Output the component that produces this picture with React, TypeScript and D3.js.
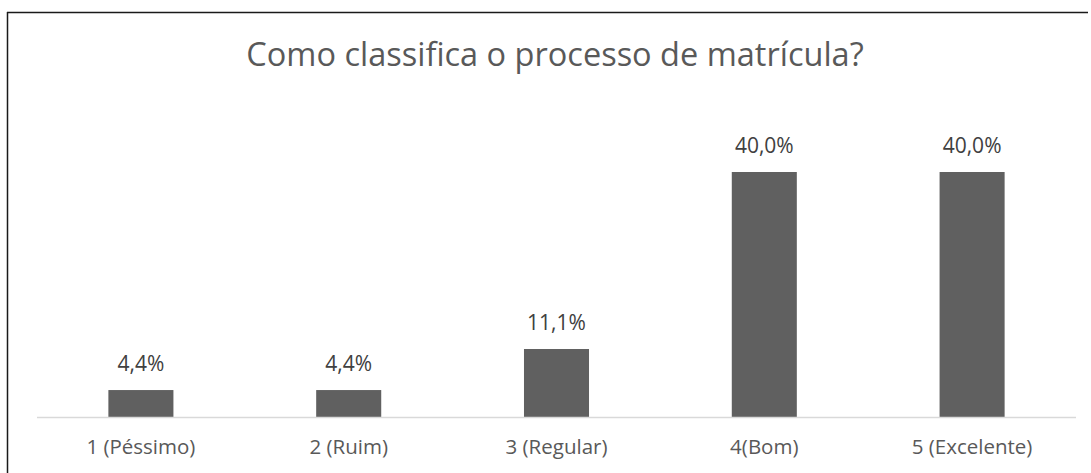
import React from "react";
import * as d3 from "d3";

const categories = ["1 (Péssimo)", "2 (Ruim)", "3 (Regular)", "4(Bom)", "5 (Excelente)"];
const values = [4.4, 4.4, 11.1, 40.0, 40.0];
const title = "Como classifica o processo de matrícula?";

const W = 1091;
const H = 473;
const FONT = "'Open Sans', sans-serif";

export default function App() {
  const x = d3
    .scaleBand<string>()
    .domain(categories)
    .range([37, 1076])
    .paddingInner(0.687)
    .paddingOuter(0.3435);
  const y = d3.scaleLinear().domain([0, 40]).range([417, 172]);
  const fmt = (v: number) => v.toFixed(1).replace(".", ",") + "%";

  return (
    <div style={{ position: "fixed", left: 0, top: 0 }}>
      <svg width={W} height={H} style={{ display: "block", background: "#fff" }}>
        <rect x={0} y={0} width={W} height={H} fill="#fff" />
        <line x1={7} y1={12.5} x2={1088} y2={12.5} stroke="#1a1a1a" strokeWidth={1.5} />
        <line x1={7.5} y1={12} x2={7.5} y2={H} stroke="#1a1a1a" strokeWidth={1.5} />
        <text x={555} y={66} textAnchor="middle" fontFamily={FONT} fontSize={32.5} fill="#595959">
          {title}
        </text>
        {categories.map((c, i) => (
          <g key={c}>
            <rect
              x={x(c)!}
              y={y(values[i])}
              width={x.bandwidth()}
              height={y(0) - y(values[i])}
              fill="#606060"
            />
            <text
              x={x(c)! + x.bandwidth() / 2}
              y={y(values[i]) - 19}
              textAnchor="middle"
              fontFamily={FONT}
              fontSize={21}
              fill="#404040"
            >
              {fmt(values[i])}
            </text>
            <text
              x={x(c)! + x.bandwidth() / 2}
              y={454}
              textAnchor="middle"
              fontFamily={FONT}
              fontSize={20.5}
              fill="#595959"
            >
              {c}
            </text>
          </g>
        ))}
        <line x1={37} y1={417.5} x2={1076} y2={417.5} stroke="#d9d9d9" strokeWidth={1.5} />
      </svg>
    </div>
  );
}
